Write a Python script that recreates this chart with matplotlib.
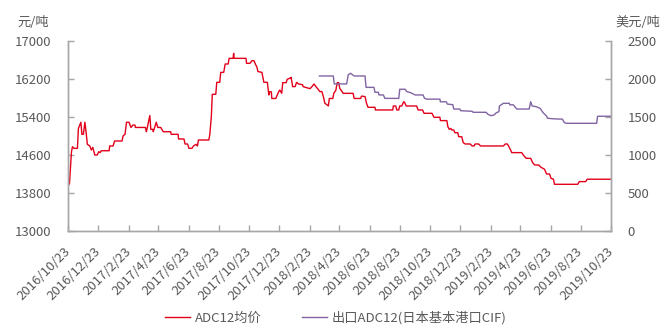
import matplotlib
matplotlib.use("Agg")
import matplotlib.pyplot as plt
import matplotlib.dates as mdates
import numpy as np
import pandas as pd

plt.rcParams['font.family'] = ['Noto Sans CJK SC', 'DejaVu Sans']

# ADC12均价 (元/吨)
adc12_avg = [
    ("2016-10-23", 13950), ("2016-10-26", 14000), ("2016-10-30", 14670), ("2016-11-01", 14775),
    ("2016-11-04", 14740), ("2016-11-11", 14740), ("2016-11-13", 15160), ("2016-11-18", 15290),
    ("2016-11-20", 15036), ("2016-11-23", 15036), ("2016-11-26", 15290), ("2016-11-28", 15127),
    ("2016-12-01", 14825), ("2016-12-06", 14790), ("2016-12-09", 14705), ("2016-12-12", 14760),
    ("2016-12-16", 14600), ("2016-12-21", 14600), ("2016-12-24", 14670), ("2016-12-27", 14650),
    ("2016-12-29", 14690),
    ("2017-01-14", 14690), ("2017-01-15", 14790), ("2017-01-22", 14790), ("2017-01-25", 14895),
    ("2017-02-09", 14895), ("2017-02-11", 15000), ("2017-02-15", 15036), ("2017-02-18", 15290),
    ("2017-02-23", 15290), ("2017-02-27", 15180), ("2017-03-03", 15230), ("2017-03-07", 15230),
    ("2017-03-08", 15180), ("2017-03-28", 15180), ("2017-03-30", 15090), ("2017-04-01", 15180),
    ("2017-04-06", 15430), ("2017-04-08", 15140), ("2017-04-12", 15140), ("2017-04-13", 15090),
    ("2017-04-19", 15290), ("2017-04-22", 15180), ("2017-04-28", 15180), ("2017-05-03", 15090),
    ("2017-05-18", 15090), ("2017-05-19", 15036), ("2017-06-02", 15036), ("2017-06-03", 14937),
    ("2017-06-14", 14937), ("2017-06-16", 14832), ("2017-06-21", 14832), ("2017-06-24", 14740),
    ("2017-06-30", 14740), ("2017-07-03", 14790), ("2017-07-08", 14825), ("2017-07-11", 14790),
    ("2017-07-13", 14916), ("2017-08-03", 14916), ("2017-08-05", 15036), ("2017-08-08", 15400),
    ("2017-08-10", 15878), ("2017-08-17", 15878), ("2017-08-19", 16130), ("2017-08-25", 16130),
    ("2017-08-27", 16340), ("2017-09-02", 16340), ("2017-09-05", 16516), ("2017-09-11", 16516),
    ("2017-09-13", 16635), ("2017-09-21", 16635), ("2017-09-22", 16740), ("2017-09-23", 16635),
    ("2017-10-17", 16635), ("2017-10-18", 16530), ("2017-10-25", 16530), ("2017-10-29", 16586),
    ("2017-11-02", 16586), ("2017-11-05", 16510), ("2017-11-08", 16450), ("2017-11-10", 16356),
    ("2017-11-18", 16340), ("2017-11-22", 16130), ("2017-11-29", 16130), ("2017-12-02", 15863),
    ("2017-12-03", 15930), ("2017-12-07", 15930), ("2017-12-08", 15790), ("2017-12-16", 15790),
    ("2017-12-22", 15935), ("2017-12-24", 15968), ("2017-12-28", 15900), ("2017-12-30", 16123),
    ("2018-01-06", 16123), ("2018-01-08", 16193), ("2018-01-14", 16220), ("2018-01-16", 16235),
    ("2018-01-19", 16040), ("2018-01-24", 16040), ("2018-01-27", 16130), ("2018-01-31", 16095),
    ("2018-02-08", 16080), ("2018-02-09", 16040), ("2018-02-19", 16010), ("2018-02-23", 15996),
    ("2018-02-27", 16040), ("2018-03-03", 16095), ("2018-03-07", 16040), ("2018-03-15", 15935),
    ("2018-03-19", 15935), ("2018-03-22", 15828), ("2018-03-25", 15688), ("2018-03-29", 15660),
    ("2018-04-01", 15632), ("2018-04-03", 15790), ("2018-04-10", 15790), ("2018-04-12", 15898),
    ("2018-04-16", 15960), ("2018-04-19", 16123), ("2018-04-22", 16123), ("2018-04-24", 16004),
    ("2018-05-01", 15898), ("2018-05-21", 15898), ("2018-05-23", 15790), ("2018-06-05", 15790),
    ("2018-06-07", 15840), ("2018-06-14", 15830), ("2018-06-17", 15688), ("2018-06-20", 15604),
    ("2018-07-04", 15604), ("2018-07-05", 15548), ("2018-08-09", 15548), ("2018-08-10", 15632),
    ("2018-08-15", 15632), ("2018-08-17", 15548), ("2018-08-21", 15548), ("2018-08-23", 15632),
    ("2018-08-27", 15632), ("2018-08-31", 15722), ("2018-09-02", 15700), ("2018-09-05", 15632),
    ("2018-09-26", 15632), ("2018-09-29", 15548), ("2018-10-08", 15548), ("2018-10-11", 15478),
    ("2018-10-27", 15478), ("2018-10-31", 15394), ("2018-11-12", 15394), ("2018-11-13", 15324),
    ("2018-11-26", 15324), ("2018-11-28", 15197), ("2018-12-01", 15140), ("2018-12-04", 15160),
    ("2018-12-06", 15127), ("2018-12-10", 15127), ("2018-12-12", 15070), ("2018-12-18", 15070),
    ("2018-12-20", 14985), ("2018-12-26", 14985), ("2018-12-29", 14860),
    ("2019-01-02", 14832), ("2019-01-12", 14832), ("2019-01-16", 14790), ("2019-01-20", 14790),
    ("2019-01-22", 14832), ("2019-01-29", 14832), ("2019-02-02", 14790), ("2019-03-20", 14790),
    ("2019-03-24", 14832), ("2019-03-28", 14832), ("2019-04-01", 14760), ("2019-04-06", 14650),
    ("2019-04-26", 14650), ("2019-04-29", 14600), ("2019-05-05", 14530), ("2019-05-14", 14530),
    ("2019-05-18", 14440), ("2019-05-22", 14390), ("2019-05-30", 14390), ("2019-06-04", 14340),
    ("2019-06-11", 14300), ("2019-06-15", 14200), ("2019-06-21", 14200), ("2019-06-24", 14110),
    ("2019-06-29", 14090), ("2019-07-01", 13983), ("2019-08-17", 13983), ("2019-08-20", 14040),
    ("2019-09-02", 14040), ("2019-09-05", 14090), ("2019-10-23", 14090),
]

# 出口ADC12(日本基本港口CIF) (美元/吨)
adc12_export = [
    ("2018-03-14", 2040), ("2018-04-11", 2040), ("2018-04-13", 1935), ("2018-05-08", 1935),
    ("2018-05-11", 2055), ("2018-05-16", 2075), ("2018-05-21", 2050), ("2018-05-23", 2040),
    ("2018-06-14", 2040), ("2018-06-16", 1890), ("2018-07-02", 1890), ("2018-07-04", 1825),
    ("2018-07-11", 1825), ("2018-07-12", 1790), ("2018-07-21", 1790), ("2018-07-24", 1745),
    ("2018-08-21", 1745), ("2018-08-23", 1865), ("2018-09-03", 1865), ("2018-09-06", 1835),
    ("2018-09-14", 1820), ("2018-09-23", 1790), ("2018-10-09", 1790), ("2018-10-12", 1745),
    ("2018-10-17", 1735), ("2018-11-12", 1735), ("2018-11-13", 1700), ("2018-11-25", 1700),
    ("2018-11-27", 1670), ("2018-12-08", 1662), ("2018-12-10", 1605), ("2018-12-22", 1605),
    ("2018-12-24", 1583), ("2019-01-16", 1575), ("2019-01-18", 1562), ("2019-02-13", 1562),
    ("2019-02-17", 1535), ("2019-02-23", 1517), ("2019-03-01", 1526), ("2019-03-06", 1557),
    ("2019-03-11", 1570), ("2019-03-12", 1645), ("2019-03-20", 1680), ("2019-04-01", 1680),
    ("2019-04-02", 1660), ("2019-04-09", 1660), ("2019-04-16", 1605), ("2019-05-11", 1605),
    ("2019-05-14", 1702), ("2019-05-17", 1645), ("2019-05-25", 1636), ("2019-06-02", 1614),
    ("2019-06-08", 1557), ("2019-06-15", 1513), ("2019-06-17", 1483), ("2019-07-02", 1475),
    ("2019-07-17", 1472), ("2019-07-21", 1425), ("2019-07-26", 1417), ("2019-09-24", 1417),
    ("2019-09-26", 1510), ("2019-10-23", 1510),
]

tick_dates = ["2016-10-23", "2016-12-23", "2017-02-23", "2017-04-23", "2017-06-23",
              "2017-08-23", "2017-10-23", "2017-12-23", "2018-02-23", "2018-04-23",
              "2018-06-23", "2018-08-23", "2018-10-23", "2018-12-23", "2019-02-23",
              "2019-04-23", "2019-06-23", "2019-08-23", "2019-10-23"]

left_ticks = [13000, 13800, 14600, 15400, 16200, 17000]
right_ticks = [0, 500, 1000, 1500, 2000, 2500]

red = '#E2001A'
purple = '#8064A2'
grey_txt = '#595959'
grey_ax = '#A6A6A6'

d1, v1 = zip(*adc12_avg)
d2, v2 = zip(*adc12_export)
d1 = pd.to_datetime(list(d1))
d2 = pd.to_datetime(list(d2))
ticks = pd.to_datetime(tick_dates)

fig = plt.figure(figsize=(6.64, 3.30), dpi=100)
ax = fig.add_axes([68 / 664, 1 - 231 / 330, 543 / 664, 190 / 330])
ax2 = ax.twinx()

l1, = ax.plot(d1, v1, color=red, lw=1.0, label='ADC12均价')
l2, = ax2.plot(d2, v2, color=purple, lw=1.0, label='出口ADC12(日本基本港口CIF)')

ax.set_xlim(ticks[0], ticks[-1])
ax.set_ylim(13000, 17000)
ax2.set_ylim(0, 2500)
ax.set_yticks(left_ticks)
ax2.set_yticks(right_ticks)
ax.set_xticks(ticks)
ax.set_xticklabels([t.strftime('%Y/%-m/%-d') for t in ticks], rotation=45,
                   ha='right', va='center', rotation_mode='anchor')

for a in (ax, ax2):
    a.spines['top'].set_visible(False)
    for s in ('left', 'right', 'bottom'):
        a.spines[s].set_color(grey_ax)
        a.spines[s].set_linewidth(1.0)
    a.tick_params(colors=grey_ax, labelcolor=grey_txt, labelsize=9.5,
                  direction='in', length=4, width=1.0)
ax.tick_params(axis='y', pad=12)
ax2.tick_params(axis='y', pad=12)
ax.tick_params(axis='x', pad=13)

fig.text(17 / 664, 1 - 22 / 330, '元/吨', fontsize=9.5, color=grey_txt, va='center')
fig.text(615 / 664, 1 - 22 / 330, '美元/吨', fontsize=9.5, color=grey_txt, va='center')

fig.legend([l1, l2], [l1.get_label(), l2.get_label()], loc='center',
           bbox_to_anchor=(336 / 664, 1 - 318 / 330), ncol=2, frameon=False,
           fontsize=9.5, handlelength=1.9, columnspacing=3.0, handletextpad=0.4,
           labelcolor=grey_txt)

plt.savefig('out.png', dpi=100)
